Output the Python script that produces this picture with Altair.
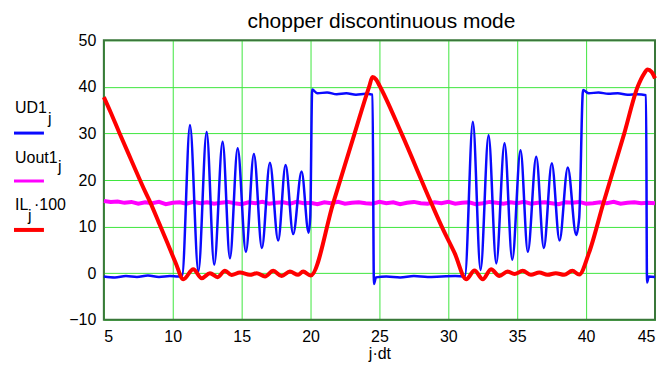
import altair as alt
import pandas as pd

TITLE = "chopper discontinuous mode"
X_TITLE = "j·dt"
X_TICKS = [5, 10, 15, 20, 25, 30, 35, 40, 45]
Y_TICKS = [-10, 0, 10, 20, 30, 40, 50]
SERIES = ["UD1", "Uout1", "IL"]
SUB = "j"
IL_SUFFIX = "·100"

# UD1_j (blue)
ud1_x = [5.0, 5.8, 6.6, 7.4, 8.2, 9.0, 9.8, 10.4, 10.68, 11.25, 11.86, 12.46, 13.01, 13.62,
         14.15, 14.71, 15.31, 15.89, 16.47, 17.05, 17.65, 18.19, 18.74, 19.35, 19.86, 19.98,
         20.12, 20.5, 21.2, 21.9, 22.6, 23.3, 24.0, 24.5, 24.6, 24.75, 25.5, 26.5, 27.5, 28.5,
         29.5, 30.5, 31.2, 31.78, 32.34, 32.92, 33.48, 34.08, 34.64, 35.24, 35.77, 36.38,
         36.93, 37.51, 38.07, 38.67, 39.28, 39.5, 39.78, 40.2, 40.9, 41.6, 42.3, 43.0, 43.7,
         44.35, 44.42, 44.55, 45.0]
ud1_y = [-0.7, -0.9, -0.6, -0.8, -0.5, -0.8, -0.6, -0.7, -0.6, 31.8, 0.4, 30.3, 1.8, 28.2,
         3.2, 26.8, 4.6, 25.6, 5.4, 23.7, 7.0, 23.2, 8.4, 21.8, 8.7, 12.0,
         39.4, 38.6, 38.8, 38.4, 38.6, 38.3, 38.5, 38.3, -2.3, -0.9, -0.7, -0.9, -0.6, -0.8,
         -0.7, -0.6, -0.7, 32.5, 0.7, 29.6, 2.1, 27.9, 2.9, 26.4, 4.6, 25.0,
         5.4, 23.6, 7.0, 22.7, 8.2, 12.0, 39.3, 38.6, 38.8, 38.5, 38.6, 38.3, 38.4,
         38.2, -2.0, -0.7, -0.8]

# Uout1_j (magenta)
uout1_x = [5.0, 5.5, 6.0, 6.5, 7.0, 7.5, 8.0, 8.5, 9.0, 9.5,
           10.0, 10.5, 11.0, 11.5, 12.0, 12.5, 13.0, 13.5, 14.0, 14.5,
           15.0, 15.5, 16.0, 16.5, 17.0, 17.5, 18.0, 18.5, 19.0, 19.5,
           20.0, 20.5, 21.0, 21.5, 22.0, 22.5, 23.0, 23.5, 24.0, 24.5,
           25.0, 25.5, 26.0, 26.5, 27.0, 27.5, 28.0, 28.5, 29.0, 29.5,
           30.0, 30.5, 31.0, 31.5, 32.0, 32.5, 33.0, 33.5, 34.0, 34.5,
           35.0, 35.5, 36.0, 36.5, 37.0, 37.5, 38.0, 38.5, 39.0, 39.5,
           40.0, 40.5, 41.0, 41.5, 42.0, 42.5, 43.0, 43.5, 44.0, 44.5,
           45.0]
uout1_y = [15.5, 15.3, 15.4, 15.1, 15.3, 14.9, 15.2, 15.0, 15.3, 14.8,
           15.1, 15.2, 14.9, 15.3, 15.0, 15.2, 14.9, 15.1, 15.3, 15.0,
           14.8, 15.2, 15.0, 15.3, 14.9, 15.1, 15.2, 14.9, 15.3, 15.0,
           15.1, 14.8, 15.2, 15.0, 15.3, 14.9, 15.1, 15.2, 15.0, 14.9,
           15.3, 15.0, 15.2, 14.8, 15.1, 15.3, 15.0, 14.9, 15.2, 15.0,
           15.3, 14.9, 15.1, 15.2, 14.8, 15.0, 15.3, 15.1, 14.9, 15.2,
           15.0, 15.3, 14.9, 15.1, 15.2, 15.0, 14.8, 15.2, 15.1, 15.3,
           14.9, 15.0, 15.2, 15.0, 15.3, 14.9, 15.1, 15.2, 15.0, 15.1,
           15.0]

# IL_j*100 (red)
il_x = [5.0, 5.5, 6.1, 7.0, 8.0, 8.4, 9.0, 9.6, 10.2, 10.77, 11.49, 12.1, 12.7, 13.26, 13.79,
        14.27, 14.88, 15.6, 16.09, 16.7, 17.29, 17.9, 18.5, 19.1, 19.46, 20.0, 21.64, 23.2,
        24.25, 24.5, 24.75, 25.0, 26.6, 28.77, 29.6, 30.46, 31.3, 31.9, 32.5, 33.1, 33.7,
        34.3, 34.8, 35.4, 36.0, 36.6, 37.2, 37.8, 38.4, 39.0, 39.5, 40.2, 41.25, 42.77,
        43.74, 44.2, 44.46, 44.75, 45.0]
il_y = [37.8, 34.5, 30.3, 24.2, 17.5, 15.0, 10.8, 6.6, 2.3, -1.3, 0.85, -1.1, 0.0, -0.85, 0.55,
        -0.4, 0.15, -0.35, 0.0, -0.7, 0.5, -0.6, 0.35, -0.35, 0.35, -0.5, 15.0, 30.0,
        40.0, 42.1, 41.6, 40.3, 30.0, 15.0, 9.5, 4.3, -1.3, 0.6, -1.3, 0.85, -0.6,
        0.35, -0.15, 0.5, -0.35, 0.15, -0.35, 0.0, -0.35, 0.5, -0.3, 4.3, 15.0, 30.0,
        40.0, 42.8, 43.7, 43.2, 41.8]

W, H = 552, 280
FONT = "Liberation Sans"

df_ud1 = pd.DataFrame({"x": ud1_x, "y": ud1_y})
df_uout1 = pd.DataFrame({"x": uout1_x, "y": uout1_y})
df_il = pd.DataFrame({"x": il_x, "y": il_y})

xscale = alt.Scale(domain=[5, 45], nice=False, zero=False)
yscale = alt.Scale(domain=[-10, 50], nice=False, zero=False)

xaxis = alt.Axis(values=X_TICKS, grid=True, gridColor="#3ee63e", gridWidth=1, ticks=False,
                 domain=False, labelFont=FONT, labelFontSize=16, labelColor="black",
                 labelPadding=9, labelFlush=True, title=X_TITLE, titleFont=FONT,
                 titleFontSize=16, titleFontWeight="normal", titleColor="black",
                 titleBaseline="alphabetic", titleY=39)
yaxis = alt.Axis(values=Y_TICKS, grid=True, gridColor="#3ee63e", gridWidth=1, ticks=False,
                 domain=False, labelFont=FONT, labelFontSize=16, labelColor="black",
                 labelPadding=8, title=None)


def line(df, color, width, interp):
    return alt.Chart(df).mark_line(color=color, strokeWidth=width, interpolate=interp).encode(
        x=alt.X("x:Q", scale=xscale, axis=xaxis),
        y=alt.Y("y:Q", scale=yscale, axis=yaxis),
    )


one = pd.DataFrame({"t": [0]})


def txt(s, x, y, size=16, align="left"):
    return alt.Chart(one).mark_text(text=s, font=FONT, fontSize=size, color="black",
                                    align=align, baseline="alphabetic").encode(
        x=alt.value(x), y=alt.value(y))


def key(color, y, width):
    return alt.Chart(one).mark_rule(color=color, strokeWidth=width).encode(
        x=alt.value(-90), x2=alt.value(-60), y=alt.value(y))


frame = alt.Chart(one).mark_rect(filled=False, stroke="#3a773a", strokeWidth=2).encode(
    x=alt.value(0), x2=alt.value(W), y=alt.value(0), y2=alt.value(H))

chart = alt.layer(
    frame,
    line(df_uout1, "#ff00ff", 4, "linear"),
    line(df_ud1, "#0a0aff", 2.5, "monotone"),
    line(df_il, "#ff0000", 4, "monotone"),
    txt(TITLE, W / 2 + 2, -12, size=21, align="center"),
    txt(SERIES[0], -89, 73), txt(SUB, -56, 84), key("#0a0aff", 93, 3),
    txt(SERIES[1], -89, 122.5), txt(SUB, -46, 132), key("#ff00ff", 141, 3),
    txt(SERIES[2], -89, 170.5), txt(SUB, -76, 181), txt(IL_SUFFIX, -70, 170.5),
    key("#ff0000", 190, 4),
).properties(
    width=W, height=H,
    autosize=alt.AutoSizeParams(type="none"),
    padding={"left": 96, "top": 32, "right": 5, "bottom": 44},
).configure_view(stroke=None).configure(background="white")

chart.save("out.html", embed_options={"renderer": "svg", "actions": False})
